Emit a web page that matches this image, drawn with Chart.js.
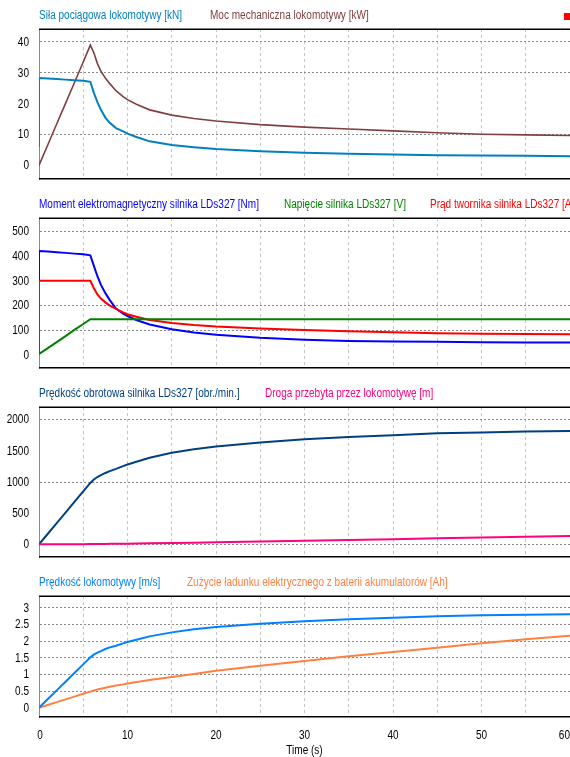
<!DOCTYPE html>
<html>
<head>
<meta charset="utf-8">
<script src="https://cdn.jsdelivr.net/npm/chart.js@4/dist/chart.umd.min.js"></script>
<style>
  html, body { margin: 0; padding: 0; background: #ffffff; overflow: hidden; }
  .panel { position: absolute; left: 0; width: 570px; }
  canvas { display: block; }
</style>
</head>
<body>
<div class="panel" style="top:0px"><canvas id="c1" width="570" height="189"></canvas></div>
<div class="panel" style="top:189px"><canvas id="c2" width="570" height="189"></canvas></div>
<div class="panel" style="top:378px"><canvas id="c3" width="570" height="189"></canvas></div>
<div class="panel" style="top:567px"><canvas id="c4" width="570" height="190"></canvas></div>
<script>
// Simulation time samples [s]
const timeS = [0, 1, 2, 3, 4, 5, 5.8, 6.2, 6.6, 7, 7.5, 8, 8.7, 9.5, 10, 11, 12.5, 15, 17.5, 20, 25, 30, 35, 40, 45, 50, 55, 60];

// Panel 1: locomotive tractive force [kN] and mechanical power [kW]
const silaPociagowa = [28.3, 28.2, 28.0, 27.8, 27.6, 27.4, 27.1, 23.5, 20.5, 18.0, 15.5, 13.8, 12.1, 11.0, 10.3, 9.2, 7.8, 6.6, 5.9, 5.3, 4.6, 4.1, 3.8, 3.5, 3.3, 3.2, 3.1, 3.0];
const silaStart = 6;
const mocMechaniczna = [0, 6.7, 13.4, 20.1, 26.8, 33.5, 39.0, 36.5, 33.0, 30.5, 28.3, 26.5, 24.2, 22.3, 21.3, 19.8, 18.0, 16.3, 15.2, 14.4, 13.2, 12.4, 11.8, 11.2, 10.6, 10.1, 9.9, 9.7];

// Panel 2: motor torque [Nm], voltage [V], armature current [A]
const momentSilnika = [420, 418, 415, 412, 409, 406, 402, 360, 318, 283, 250, 222, 188, 168, 158, 142, 124, 105, 92, 83, 71, 63, 58, 55, 54, 52, 51, 51];
const momentStart = 130;
const napiecieSilnika = [5, 29, 53, 77, 102, 126, 145, 145, 145, 145, 145, 145, 145, 145, 145, 145, 145, 145, 145, 145, 145, 145, 145, 145, 145, 145, 145, 145];
const napiecieStart = 130;
const pradTwornika = [300, 300, 300, 300, 300, 300, 300, 270, 245, 228, 213, 200, 187, 173, 165, 155, 142, 130, 122, 116, 108, 102, 97, 93, 89, 87, 86, 85];
const pradStart = 130;

// Panel 3: motor speed [rpm] and distance travelled [m]
const predkoscObrotowa = [0, 170, 340, 510, 680, 850, 985, 1040, 1080, 1110, 1145, 1175, 1210, 1255, 1280, 1325, 1390, 1470, 1525, 1570, 1635, 1685, 1720, 1750, 1780, 1795, 1808, 1818];
const drogaPrzebyta = [0, 0.1, 0.5, 1.2, 2.1, 3.3, 4.4, 5.0, 5.7, 6.3, 7.2, 8.1, 9.4, 10.9, 11.5, 13.6, 16.5, 22, 27.5, 33, 45, 57, 70, 84, 97, 110, 122, 135];

// Panel 4: locomotive speed [m/s] and battery charge used [Ah]
const predkoscLokomotywy = [0, 0.26, 0.52, 0.78, 1.04, 1.30, 1.51, 1.59, 1.65, 1.70, 1.76, 1.81, 1.86, 1.93, 1.97, 2.04, 2.14, 2.26, 2.35, 2.42, 2.52, 2.59, 2.65, 2.70, 2.74, 2.77, 2.79, 2.80];
const zuzycieLadunku = [0, 0.083, 0.167, 0.25, 0.333, 0.417, 0.483, 0.515, 0.545, 0.57, 0.60, 0.63, 0.665, 0.70, 0.725, 0.77, 0.83, 0.92, 1.01, 1.11, 1.26, 1.40, 1.54, 1.67, 1.80, 1.93, 2.05, 2.16];

// Axis ticks
const xTicks = [0, 5, 10, 15, 20, 25, 30, 35, 40, 45, 50, 55, 60];
const xTickLabels = [0, 10, 20, 30, 40, 50, 60];
const xTitle = 'Time (s)';
const yTicks1 = [0, 10, 20, 30, 40];
const yTicks2 = [0, 100, 200, 300, 400, 500];
const yTicks3 = [0, 500, 1000, 1500, 2000];
const yTicks4 = [0, 0.5, 1, 1.5, 2, 2.5, 3];
// Horizontal grid lines that are drawn in each panel
const yGrid1 = [10, 30, 40];
const yGrid2 = [100, 200, 500];
const yGrid3 = [0, 1000, 2000];
const yGrid4 = [0.5, 1, 1.5, 2, 2.5, 3];

const FONT = "'Liberation Sans', Arial, sans-serif";
const NARROW = 0.835;   // horizontal squeeze giving a narrow sans face

function series(values, start) {
  const pts = timeS.map((t, i) => ({ x: t, y: values[i] }));
  if (start !== undefined) pts.unshift({ x: 0, y: start });
  return pts;
}

function narrowText(ctx, str, x, y, align, color) {
  ctx.save();
  ctx.font = '12px ' + FONT;
  ctx.fillStyle = color;
  ctx.textBaseline = 'middle';
  ctx.textAlign = align;
  ctx.translate(x, y);
  ctx.scale(NARROW, 1);
  ctx.fillText(str, 0, 0);
  ctx.restore();
}

// Frame lines, series titles, tick labels and the status mark
const panelDecor = {
  id: 'panelDecor',
  afterDatasetsDraw(chart) {
    const { ctx, chartArea: a } = chart;
    ctx.save();
    ctx.strokeStyle = '#000000';
    ctx.lineWidth = 1.5;
    ctx.beginPath();
    ctx.moveTo(a.left, Math.round(a.top) + 0.25);
    ctx.lineTo(chart.width, Math.round(a.top) + 0.25);
    ctx.moveTo(a.left, Math.round(a.bottom) - 0.25);
    ctx.lineTo(chart.width, Math.round(a.bottom) - 0.25);
    ctx.stroke();
    ctx.restore();
  },
  afterDraw(chart, args, opts) {
    const { ctx, chartArea: a, scales } = chart;
    chart.data.datasets.forEach((ds, i) => {
      narrowText(ctx, ds.label, opts.titleX[i], a.top - 13, 'left', ds.borderColor);
    });
    scales.y.ticks.forEach(t => {
      narrowText(ctx, String(t.value), a.left - 10, scales.y.getPixelForValue(t.value) + 0.5, 'right', '#000000');
    });
    if (opts.showX) {
      const n = xTickLabels.length;
      xTickLabels.forEach((v, i) => {
        const px = scales.x.getPixelForValue(v);
        const align = i === n - 1 ? 'right' : 'center';
        const x = i === n - 1 ? chart.width : (i === 0 ? px + 1 : px);
        narrowText(ctx, String(v), x, a.bottom + 18, align, '#000000');
      });
      narrowText(ctx, xTitle, (a.left + a.right) / 2, a.bottom + 33, 'center', '#000000');
    }
    if (opts.mark) {
      ctx.save();
      ctx.fillStyle = '#ff0000';
      ctx.fillRect(564, 13, 6, 7);
      ctx.restore();
    }
  }
};

function makeChart(id, cfg) {
  const bottom = !!cfg.showX;
  const gridSet = cfg.yGrid;
  return new Chart(document.getElementById(id), {
    type: 'line',
    data: { datasets: cfg.datasets.map(d => ({
      label: d.label,
      data: d.data,
      borderColor: d.color,
      backgroundColor: d.color,
      borderWidth: d.width || 2,
      pointRadius: 0,
      tension: 0,
      fill: false,
      order: d.order || 0
    })) },
    options: {
      responsive: false,
      animation: false,
      devicePixelRatio: 1,
      events: [],
      layout: { padding: { top: 29, bottom: bottom ? 0 : 10, left: 0, right: 0 } },
      plugins: {
        legend: { display: false },
        tooltip: { enabled: false },
        panelDecor: { titleX: cfg.titleX, mark: !!cfg.mark, showX: bottom }
      },
      scales: {
        x: {
          type: 'linear',
          min: 0, max: 60,
          afterBuildTicks: s => { s.ticks = xTicks.map(v => ({ value: v })); },
          afterFit: s => { s.height = bottom ? 39.7 : 0; s.paddingLeft = 0; s.paddingRight = 0; },
          grid: {
            drawTicks: false,
            lineWidth: 1,
            color: c => (c.tick && c.tick.value > 0) ? '#c4c4c4' : 'rgba(0,0,0,0)'
          },
          border: { display: false, dash: [3, 3] },
          ticks: { display: false }
        },
        y: {
          type: 'linear',
          min: cfg.yMin, max: cfg.yMax,
          afterBuildTicks: s => { s.ticks = cfg.yTicks.map(v => ({ value: v })); },
          afterFit: s => { s.width = 39; s.paddingTop = 0; s.paddingBottom = 0; },
          grid: {
            drawTicks: false,
            lineWidth: 1,
            color: c => (c.tick && gridSet.includes(c.tick.value)) ? '#8a8a8a' : 'rgba(0,0,0,0)'
          },
          border: { display: true, color: '#8a8a8a', width: 1, dash: [2, 2] },
          ticks: { display: false }
        }
      }
    },
    plugins: [panelDecor]
  });
}

makeChart('c1', {
  yMin: -4.41, yMax: 44.21, yTicks: yTicks1, yGrid: yGrid1, mark: true,
  titleX: [39, 210],
  datasets: [
    { label: 'Siła pociągowa lokomotywy [kN]', data: series(silaPociagowa, silaStart), color: '#0080c0', width: 2 },
    { label: 'Moc mechaniczna lokomotywy [kW]', data: series(mocMechaniczna), color: '#804040', width: 1.6 }
  ]
});

makeChart('c2', {
  yMin: -51.1, yMax: 552.3, yTicks: yTicks2, yGrid: yGrid2,
  titleX: [39, 284, 430],
  datasets: [
    { label: 'Moment elektromagnetyczny silnika LDs327 [Nm]', data: series(momentSilnika, momentStart), color: '#0000ff', order: 2 },
    { label: 'Napięcie silnika LDs327 [V]', data: series(napiecieSilnika, napiecieStart), color: '#008000', order: 0 },
    { label: 'Prąd twornika silnika LDs327 [A]', data: series(pradTwornika, pradStart), color: '#ff0000', order: 1 }
  ]
});

makeChart('c3', {
  yMin: -202.6, yMax: 2202.6, yTicks: yTicks3, yGrid: yGrid3,
  titleX: [39, 265],
  datasets: [
    { label: 'Prędkość obrotowa silnika LDs327 [obr./min.]', data: series(predkoscObrotowa), color: '#004080', order: 1 },
    { label: 'Droga przebyta przez lokomotywę [m]', data: series(drogaPrzebyta), color: '#ff0080', order: 0 }
  ]
});

makeChart('c4', {
  yMin: -0.288, yMax: 3.351, yTicks: yTicks4, yGrid: yGrid4, showX: true,
  titleX: [39, 187],
  datasets: [
    { label: 'Prędkość lokomotywy [m/s]', data: series(predkoscLokomotywy), color: '#0080ff' },
    { label: 'Zużycie ładunku elektrycznego z baterii akumulatorów [Ah]', data: series(zuzycieLadunku), color: '#ff8040' }
  ]
});
</script>
</body>
</html>
